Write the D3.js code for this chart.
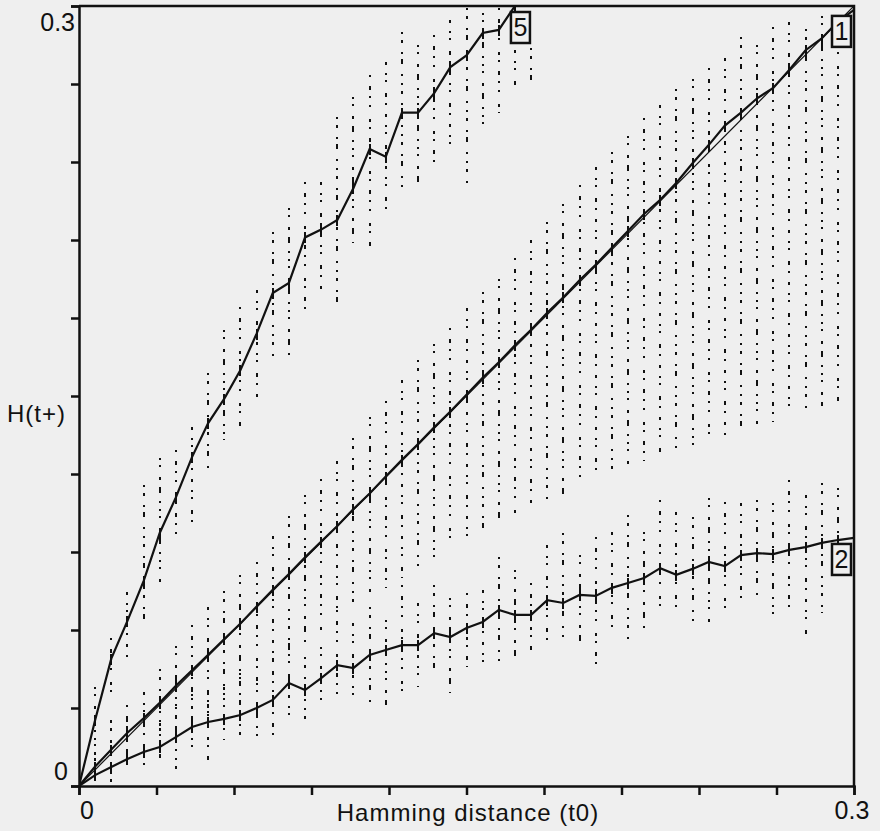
<!DOCTYPE html>
<html>
<head>
<meta charset="utf-8">
<script src="https://cdn.jsdelivr.net/npm/d3@7"></script>
<style>
  html, body { margin: 0; padding: 0; background: #efefef; }
  svg { display: block; }
  text { font-family: "Liberation Sans", Arial, sans-serif; fill: #111; }
</style>
</head>
<body>
<script>
const width = 880
const height = 831

// x positions: Hamming distance steps of 1/160
const steps = d3.range(0, 49).map((k) => k / 160)

// mean curves (index 0 = origin)
const line5 = [0, 0.0254, 0.049, 0.0635, 0.0788, 0.0973, 0.111, 0.1265, 0.1396, 0.149, 0.160,
    0.174, 0.1896, 0.1935, 0.211, 0.214, 0.2177, 0.230, 0.245, 0.242, 0.259,
    0.259, 0.2665, 0.2765, 0.281, 0.2896, 0.2908, 0.3]
const line1 = [0, 0.0075, 0.014, 0.0205, 0.026, 0.032, 0.0385, 0.0445, 0.0505, 0.0565, 0.0625,
    0.069, 0.0755, 0.0815, 0.088, 0.094, 0.1, 0.1065, 0.1125, 0.119, 0.1255,
    0.1315, 0.138, 0.144, 0.1505, 0.157, 0.163, 0.1695, 0.1755, 0.182, 0.188,
    0.1945, 0.2005, 0.207, 0.2135, 0.22, 0.2255, 0.232, 0.2395, 0.2465, 0.254,
    0.259, 0.2645, 0.2685, 0.2755, 0.283, 0.2875, 0.294, 0.2985]
const line2 = [0, 0.0042, 0.0073, 0.0104, 0.0131, 0.015, 0.0188, 0.0227, 0.0246, 0.0258, 0.0273,
    0.030, 0.0331, 0.0396, 0.0369, 0.0415, 0.0465, 0.0454, 0.0504, 0.0523, 0.0542,
    0.0542, 0.0588, 0.0573, 0.0608, 0.0631, 0.0677, 0.0658, 0.0658, 0.0715, 0.0704,
    0.0735, 0.0731, 0.0762, 0.0781, 0.08, 0.0838, 0.0812, 0.0835, 0.0862, 0.0846,
    0.0888, 0.0896, 0.0892, 0.0908, 0.0919, 0.0935, 0.0946, 0.0954]

// spread of the individual runs per column (index 0 = k=1)
const hi5 = [0.0381, 0.0569, 0.0746, 0.1158, 0.1262, 0.1292, 0.1381, 0.1588, 0.1754, 0.1842,
    0.1908, 0.2131, 0.2223, 0.2323, 0.2323, 0.2573, 0.265, 0.2735, 0.2785, 0.29,
    0.285, 0.2888, 0.2946, 0.2992, 0.2973, 0.2992, 0.2831, 0.2838]
const lo5 = [0.0158, 0.0331, 0.0485, 0.0638, 0.0765, 0.0958, 0.1012, 0.1204, 0.1331, 0.1369,
    0.1485, 0.1646, 0.1638, 0.1812, 0.1881, 0.1838, 0.2088, 0.2069, 0.2188, 0.2285,
    0.2292, 0.2396, 0.2438, 0.23, 0.2523, 0.2588, 0.2696, 0.2696]
const hi1 = [0.016, 0.025, 0.031, 0.036, 0.045, 0.054, 0.062, 0.069, 0.075, 0.081,
    0.086, 0.096, 0.104, 0.112, 0.118, 0.125, 0.134, 0.142, 0.148, 0.156,
    0.164, 0.17, 0.176, 0.184, 0.19, 0.195, 0.203, 0.21, 0.217, 0.224,
    0.231, 0.238, 0.244, 0.25, 0.257, 0.262, 0.268, 0.272, 0.276, 0.28,
    0.288, 0.285, 0.292, 0.294, 0.291, 0.296, 0.294]
const lo1 = [0.001, 0.004, 0.008, 0.012, 0.016, 0.019, 0.024, 0.028, 0.033, 0.036,
    0.04, 0.045, 0.05, 0.055, 0.06, 0.065, 0.068, 0.072, 0.076, 0.08,
    0.084, 0.088, 0.092, 0.095, 0.098, 0.1, 0.104, 0.106, 0.11, 0.112,
    0.115, 0.118, 0.12, 0.122, 0.125, 0.126, 0.128, 0.13, 0.132, 0.134,
    0.136, 0.138, 0.14, 0.142, 0.144, 0.146, 0.148]
const hi2 = [0.0108, 0.0254, 0.0254, 0.0204, 0.0242, 0.0304, 0.0381, 0.0358, 0.0381, 0.0435,
    0.0396, 0.0485, 0.055, 0.0496, 0.0535, 0.0677, 0.0627, 0.0688, 0.0638, 0.0773,
    0.0704, 0.0773, 0.0723, 0.0742, 0.0754, 0.0881, 0.0831, 0.0781, 0.0927, 0.0973,
    0.0888, 0.0958, 0.0977, 0.1042, 0.0977, 0.11, 0.1054, 0.1035, 0.1108, 0.1092,
    0.1088, 0.11, 0.1088, 0.1177, 0.1119, 0.1165, 0.1146]
const lo2 = [0.0012, 0.0012, 0.0062, 0.0062, 0.0088, 0.0062, 0.0127, 0.0081, 0.0177, 0.0165,
    0.0188, 0.0177, 0.0242, 0.0235, 0.0319, 0.0342, 0.0312, 0.0323, 0.0312, 0.0342,
    0.0381, 0.0446, 0.0358, 0.0458, 0.0435, 0.0465, 0.0473, 0.0512, 0.0562, 0.0569,
    0.0535, 0.0465, 0.0608, 0.055, 0.0592, 0.0658, 0.0665, 0.0631, 0.0608, 0.0665,
    0.0696, 0.0727, 0.0638, 0.0685, 0.0562, 0.0665, 0.0812]

const ticks = d3.range(0, 11).map((i) => i * 0.03)

const x = d3.scaleLinear().domain([0, 0.3]).range([79, 854])
const y = d3.scaleLinear().domain([0, 0.3]).range([786, 6])

const svg = d3.select("body").append("svg")
    .attr("width", width)
    .attr("height", height)
    .attr("viewBox", [0, 0, width, height])

svg.append("defs").append("clipPath").attr("id", "plot")
    .append("rect").attr("x", 79).attr("y", 6).attr("width", 775).attr("height", 780)

const plot = svg.append("g").attr("clip-path", "url(#plot)")

// scatter columns, drawn as sparse dotted runs
const dashes = [
    "2,6,3,9,2,5,5,10,2,7",
    "3,8,2,5,2,11,4,6,2,9",
    "2,9,4,6,2,7,2,12,3,5",
    "2,5,2,10,3,7,6,8,2,6",
]
const series = [[lo5, hi5, line5], [lo1, hi1, line1], [lo2, hi2, line2]]
series.forEach(([lo, hi, mean], s) => {
    const cols = lo.map((v, i) => ({ k: i + 1, lo: v, hi: hi[i], m: mean[i + 1] }))
    const g = plot.append("g").attr("stroke", "#111").attr("shape-rendering", "crispEdges")
    g.selectAll("line.dots")
        .data(cols)
        .join("line")
        .attr("class", "dots")
        .attr("stroke-width", 2)
        .attr("x1", (d) => Math.round(x(steps[d.k])))
        .attr("x2", (d) => Math.round(x(steps[d.k])))
        .attr("y1", (d) => y(d.hi))
        .attr("y2", (d) => y(d.lo))
        .attr("stroke-dasharray", (d) => dashes[(d.k * 3 + s) % 4])
    // dense cluster of runs around each mean
    g.selectAll("line.core")
        .data(cols.filter((d) => d.m !== undefined))
        .join("line")
        .attr("class", "core")
        .attr("stroke-width", 2)
        .attr("x1", (d) => Math.round(x(steps[d.k])))
        .attr("x2", (d) => Math.round(x(steps[d.k])))
        .attr("y1", (d) => y(d.m) - 5)
        .attr("y2", (d) => y(d.m) + 6)
})

// diagonal reference
plot.append("line")
    .attr("x1", x(0)).attr("y1", y(0))
    .attr("x2", x(0.3)).attr("y2", y(0.3))
    .attr("stroke", "#111").attr("stroke-width", 1.2)

const curve = d3.line()
    .x((d, i) => x(steps[i]))
    .y((d) => y(d))

const curves = [
    { name: "5", values: line5 },
    { name: "1", values: line1 },
    { name: "2", values: line2 },
]

plot.selectAll("path.curve")
    .data(curves)
    .join("path")
    .attr("class", "curve")
    .attr("d", (d) => curve(d.values))
    .attr("fill", "none")
    .attr("stroke", "#111")
    .attr("stroke-width", 2.2)

// axes
const xAxis = svg.append("g")
    .attr("transform", `translate(0,${y(0)})`)
    .call(d3.axisBottom(x).tickValues(ticks).tickSize(9).tickFormat(""))
const yAxis = svg.append("g")
    .attr("transform", `translate(${x(0)},0)`)
    .call(d3.axisLeft(y).tickValues(ticks).tickSize(8).tickFormat(""))
;[xAxis, yAxis].forEach((a) => {
    a.select(".domain").attr("stroke", "#111").attr("stroke-width", 2.5)
    a.selectAll(".tick line").attr("stroke", "#111").attr("stroke-width", 2.5)
})

// top and right border
svg.append("path")
    .attr("d", `M${x(0)},${y(0.3)}H${x(0.3)}V${y(0)}`)
    .attr("fill", "none").attr("stroke", "#111").attr("stroke-width", 2.5)

// tick labels
svg.append("text").attr("x", x(0) + 8).attr("y", 819).attr("text-anchor", "middle")
    .attr("font-size", 25).text("0")
svg.append("text").attr("x", x(0.3) - 2).attr("y", 819).attr("text-anchor", "middle")
    .attr("font-size", 25).text("0.3")
svg.append("text").attr("x", x(0) - 11).attr("y", y(0) - 6).attr("text-anchor", "end")
    .attr("font-size", 25).text("0")
svg.append("text").attr("x", x(0) - 4).attr("y", y(0.3) + 25).attr("text-anchor", "end")
    .attr("font-size", 25).text("0.3")

// axis titles
svg.append("text").attr("x", 468).attr("y", 821).attr("text-anchor", "middle")
    .attr("font-size", 24).attr("letter-spacing", 1).text("Hamming distance (t0)")
svg.append("text").attr("x", 7).attr("y", 422)
    .attr("font-size", 24).attr("letter-spacing", 1).text("H(t+)")

// end labels
const ends = [
    { name: "5", k: 27, v: line5[27] },
    { name: "1", k: 48, v: line1[48] },
    { name: "2", k: 48, v: line2[48] },
]
const lab = svg.append("g")
ends.forEach((e) => {
    const ex = x(steps[e.k])
    const ey = y(e.v)
    const bx = Math.min(ex - 4, x(0.3) - 22)
    const by = ey + 6
    lab.append("rect")
        .attr("x", bx).attr("y", by).attr("width", 19).attr("height", 31)
        .attr("fill", "#efefef").attr("stroke", "#111").attr("stroke-width", 2.5)
    lab.append("text")
        .attr("x", bx + 9.5).attr("y", by + 24).attr("text-anchor", "middle")
        .attr("font-size", 25).text(e.name)
})
</script>
</body>
</html>
